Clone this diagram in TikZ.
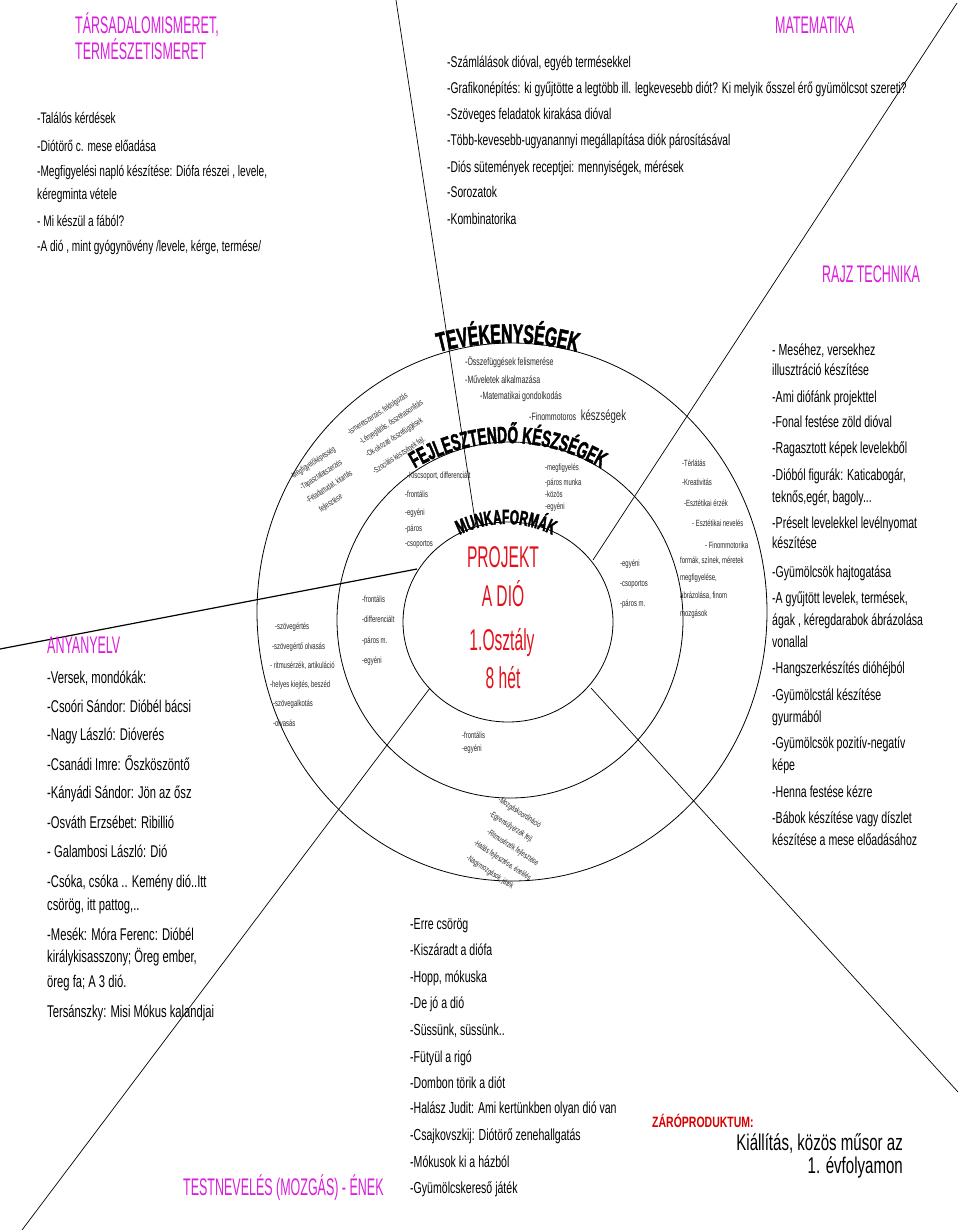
\documentclass[tikz,border=0pt]{standalone}
\usepackage{fontspec}
\setmainfont{Liberation Sans}
\newfontfamily\nf[FakeStretch=0.66]{Liberation Sans}
\newfontfamily\hf[FakeStretch=0.52]{Liberation Sans}
\newfontfamily\lf[FakeStretch=0.58,FakeBold=1.8]{Liberation Sans Bold}
\newfontfamily\bff[FakeStretch=0.7]{Liberation Sans Bold}
\usetikzlibrary{calc,decorations.text}
\definecolor{mag}{RGB}{218,30,218}
\definecolor{pred}{RGB}{226,18,28}
\definecolor{zred}{RGB}{215,0,0}
\newcommand\fs[1]{\fontsize{#1}{#1}\selectfont}
\begin{document}
\begin{tikzpicture}[x=1pt,y=-1pt,
 t/.style={anchor=base west,inner sep=0pt},
 hd/.style={t,text=mag,font=\hf\fs{24}},
 btl/.style={t,font=\nf\fs{15.3}},
 bma/.style={t,font=\nf\fs{15.6}},
 brt/.style={t,font=\nf\fs{16}},
 ban/.style={t,font=\nf\fs{17}},
 bte/.style={t,font=\nf\fs{16}},
 sm/.style={t,font=\nf\fs{9},text=black!85},
 smblock/.style={anchor=north west,inner sep=0pt,align=left,
   font=\nf\fontsize{8.3}{14.5}\selectfont,text=black!85},
 smt/.style={t,font=\nf\fs{10.6},text=black!85},
 ringline/.style={line width=0.8pt},
 divider/.style={line width=0.7pt},
 ctr/.style={anchor=base,inner sep=0pt,text=pred,font=\hf\fs{30}}]

\fill[white] (0,0) rectangle (960,1230);
\useasboundingbox (0,0) rectangle (960,1230);

% rings
\draw[ringline] (512,612) ellipse [x radius=255, y radius=269];
\draw[ringline] (510,620) ellipse [x radius=173, y radius=178];
\draw[ringline] (508,622) ellipse [x radius=105, y radius=100];

% dividers
\coordinate (l1a) at (396,0);   \coordinate (l1b) at (476,527);
\coordinate (l2a) at (957,3);   \coordinate (l2b) at (593,560);
\coordinate (l3a) at (0,649);   \coordinate (l3b) at (417,569);
\coordinate (l4a) at (430,688); \coordinate (l4b) at (22,1230);
\coordinate (l5a) at (591,688); \coordinate (l5b) at (958,1092);
\draw[divider] (l1a) -- (l1b);
\draw[divider] (l2a) -- (l2b);
\draw[divider,line width=1.2pt] (l3a) -- (l3b);
\draw[divider] (l4a) -- (l4b);
\draw[divider] (l5a) -- (l5b);

% curved ring labels
\path[decorate,decoration={text along path,text align=center,
  text={|\lf\fs{27}|TEVÉKENYSÉGEK}}]
  ($(508,614)+(235:271)$) arc[start angle=235,end angle=305,radius=271];
\path[decorate,decoration={text along path,text align=center,
  text={|\lf\fs{23.5}|FEJLESZTENDŐ KÉSZSÉGEK}}]
  ($(508,626)+(215:183)$) arc[start angle=215,end angle=325,radius=183];
\path[decorate,decoration={text along path,text align=center,
  text={|\lf\fs{20.5}|MUNKAFORMÁK}}]
  ($(506,628)+(205:104)$) arc[start angle=205,end angle=335,radius=104];

% centre
\node[ctr] (c1) at (503,567) {PROJEKT};
\node[ctr] (c2) at (503,606) {A DIÓ};
\node[ctr] (c3) at (502,650) {1.Osztály};
\node[ctr] (c4) at (503,688) {8 hét};

% headers
\node[hd] (h1) at (75,34) {TÁRSADALOMISMERET,};
\node[hd] (h2) at (75,60) {TERMÉSZETISMERET};
\node[hd] (h3) at (775,34) {MATEMATIKA};
\node[hd] (h4) at (822,283) {RAJZ TECHNIKA};
\node[hd] (h5) at (47,653) {ANYANYELV};
\node[hd] (h6) at (183,1195) {TESTNEVELÉS (MOZGÁS) - ÉNEK};

% top-left list
\foreach \y/\tx [count=\i] in {
 124/{-Találós kérdések},
 152/{-Diótörő c. mese előadása},
 177/{-Megfigyelési napló készítése: Diófa részei , levele,},
 200/{kéregminta vétele},
 227/{- Mi készül a fából?}}
 \node[btl] (ts\i) at (37,\y) {\tx};
\node[btl] (ts6) at (37,252) {-A dió , mint gyógynövény /levele, kérge, termése/};

% maths list
\foreach \y/\tx [count=\i] in {
 68/{-Számlálások dióval, egyéb termésekkel},
 94/{-Grafikonépítés: ki gyűjtötte a legtöbb ill. legkevesebb diót? Ki melyik ősszel érő gyümölcsot szereti?},
 120/{-Szöveges feladatok kirakása dióval},
 146/{-Több-kevesebb-ugyanannyi megállapítása diók párosításával},
 173/{-Diós sütemények receptjei: mennyiségek, mérések},
 198/{-Sorozatok},
 225/{-Kombinatorika}}
 \node[bma] (ma\i) at (447,\y) {\tx};

% art list
\foreach \y/\tx [count=\i] in {
 355/{- Meséhez, versekhez},
 375/{illusztráció készítése},
 402/{-Ami diófánk projekttel},
 427/{-Fonal festése zöld dióval},
 453/{-Ragasztott képek levelekből},
 480/{-Dióból figurák: Katicabogár,},
 502/{teknős,egér, bagoly...},
 528/{-Préselt levelekkel levélnyomat},
 548/{készítése},
 577/{-Gyümölcsök hajtogatása},
 603/{-A gyűjtött levelek, termések,},
 625/{ágak , kéregdarabok ábrázolása},
 647/{vonallal},
 673/{-Hangszerkészítés dióhéjból},
 700/{-Gyümölcstál készítése},
 722/{gyurmából},
 748/{-Gyümölcsök pozitív-negatív},
 770/{képe},
 797/{-Henna festése kézre},
 823/{-Bábok készítése vagy díszlet},
 845/{készítése a mese előadásához}}
 \node[brt] (rt\i) at (772,\y) {\tx};

% mother tongue list
\foreach \y/\tx [count=\i] in {
 683/{-Versek, mondókák:},
 712/{-Csoóri Sándor: Dióbél bácsi},
 740/{-Nagy László: Dióverés},
 770/{-Csanádi Imre: Őszköszöntő},
 798/{-Kányádi Sándor: Jön az ősz},
 828/{-Osváth Erzsébet: Ribillió},
 857/{- Galambosi László: Dió},
 887/{-Csóka, csóka .. Kemény dió..Itt},
 910/{csörög, itt pattog,..},
 940/{-Mesék: Móra Ferenc: Dióbél},
 962/{királykisasszony; Öreg ember,},
 987/{öreg fa; A 3 dió.},
 1017/{Tersánszky: Misi Mókus kalandjai}}
 \node[ban] (an\i) at (47,\y) {\tx};

% PE / music list
\foreach \y/\tx [count=\i] in {
 929/{-Erre csörög},
 955/{-Kiszáradt a diófa},
 982/{-Hopp, mókuska},
 1008/{-De jó a dió},
 1035/{-Süssünk, süssünk..},
 1062/{-Fütyül a rigó},
 1088/{-Dombon törik a diót},
 1113/{-Halász Judit: Ami kertünkben olyan dió van},
 1140/{-Csajkovszkij: Diótörő zenehallgatás},
 1167/{-Mókusok ki a házból},
 1193/{-Gyümölcskereső játék}}
 \node[bte] (te\i) at (410,\y) {\tx};

% final product
\node[t,text=zred,font=\bff\fs{15}] (zp) at (652,1127) {ZÁRÓPRODUKTUM:};
\node[anchor=base east,inner sep=0pt,font=\nf\fs{22.8}] (k1) at (903,1150) {Kiállítás, közös műsor az};
\node[anchor=base east,inner sep=0pt,font=\nf\fs{22.8}] (k2) at (903,1173) {1. évfolyamon};

% outer ring small texts - top
\node[smt] (o1) at (465,365) {-Összefüggések felismerése};
\node[smt] (o2) at (465,383) {-Műveletek alkalmazása};
\node[smt] (o3) at (480,399) {-Matematikai gondolkodás};
\node[smt] (o4) at (529,420) {-Finommotoros {\fs{14.5} készségek}};

% outer ring - top left (rotated blocks)
\node[smblock,rotate=33] (otl1) at (289,474)
 {-Megfigyelőképesség\\ \hspace{2pt}-Tapasztalatszerzés\\ -Feladattudat, kitartás\\ \hspace{6pt}fejlesztése};
\node[smblock,rotate=33] (otl2) at (346,430)
 {-Ismeretszerzés, feldolgozás\\ \hspace{5pt}-Lényeglátás, összehasonlítás\\ \hspace{3pt}-Ok-okozati összefüggések\\[3pt] -Szociális készségek fejl.};

% outer ring - right
\foreach \x/\y/\tx [count=\i] in {
 682/466/{-Térlátás},
 682/485/{-Kreativitás},
 684/506/{-Esztétikai érzék},
 692/526/{- Esztétikai nevelés},
 705/548/{- Finommotorika},
 680/563/{formák, színek, méretek},
 680/580/{megfigyelése,},
 680/598/{ábrázolása, finom},
 680/616/{mozgások}}
 \node[sm] (or\i) at (\x,\y) {\tx};

% outer ring - left
\foreach \x/\y/\tx [count=\i] in {
 275/629/{-szövegértés},
 272/649/{-szövegértő olvasás},
 270/668/{- ritmusérzék, artikuláció},
 270/687/{-helyes kiejtés, beszéd},
 273/706/{-szövegalkotás},
 273/726/{-olvasás}}
 \node[sm] (ol\i) at (\x,\y) {\tx};

% outer ring - bottom (rotated block)
\node[smblock,rotate=-33,font=\nf\fontsize{8.3}{16.5}\selectfont] (ob) at (501,796)
 {-Mozgáskoordináció\\ -Egyensúlyérzék fejl.\\ \hspace{8pt}-Ritmusérzék fejlesztése\\ \hspace{3pt}-Hallás fejlesztése, éneklés\\ \hspace{5pt}-Nagymozgások, játék};

% middle ring texts
\foreach \x/\y/\tx [count=\i] in {
 407/478/{-Kiscsoport, differenciált},
 405/497/{-frontális},
 405/515/{-egyéni},
 405/531/{-páros},
 405/546/{-csoportos},
 545/470/{-megfigyelés},
 545/485/{-páros munka},
 545/497/{-közös},
 545/509/{-egyéni},
 620/566/{-egyéni},
 620/586/{-csoportos},
 620/606/{-páros m.},
 362/602/{-frontális},
 362/622/{-differenciált},
 362/643/{-páros m.},
 362/663/{-egyéni},
 462/738/{-frontális},
 462/751/{-egyéni}}
 \node[sm] (mr\i) at (\x,\y) {\tx};

\end{tikzpicture}
\end{document}
